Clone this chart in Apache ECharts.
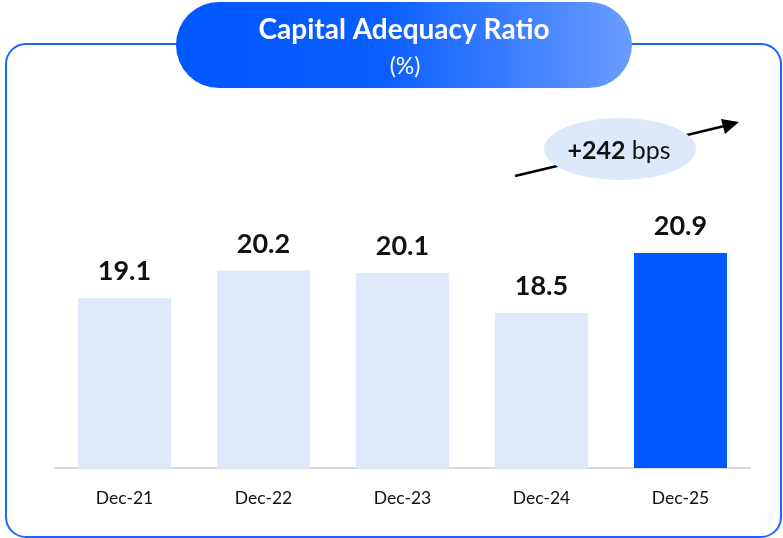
<!DOCTYPE html>
<html><head><meta charset="utf-8">
<script src="https://cdn.jsdelivr.net/npm/echarts@6/dist/echarts.min.js"></script>
<style>html,body{margin:0;padding:0;background:#fff}#c{width:783px;height:538px}</style>
</head><body><div id="c"></div>
<script>
const categories = ['Dec-21','Dec-22','Dec-23','Dec-24','Dec-25'];
const values = [19.1, 20.2, 20.1, 18.5, 20.9];
const highlightIndex = 4;
const titleText = 'Capital Adequacy Ratio';
const subtitleText = '(%)';
const changeValue = '+242';
const changeUnit = ' bps';

const FONT = 'Lato, "Open Sans", sans-serif';
const chart = echarts.init(document.getElementById('c'), null, {renderer:'canvas'});
chart.setOption({
  backgroundColor:'#fff',
  animation:false,
  grid:{left:55, right:33, top:93, bottom:70},
  xAxis:{type:'category', data:categories,
    axisLine:{lineStyle:{color:'#d9d9d9', width:2}},
    axisTick:{show:false},
    axisLabel:{color:'#111', fontSize:17.5, fontFamily:FONT, margin:21}},
  yAxis:{type:'value', min:12.3, max:27.3, show:false, splitLine:{show:false}},
  series:[{type:'bar', barWidth:93,
    data: values.map((v,i)=>({value:v, itemStyle:{color: i===highlightIndex ? '#0058ff' : '#dfe9fb'}})),
    label:{show:true, position:'top', distance:13, color:'#111', fontSize:27, fontWeight:'bold', fontFamily:FONT}
  }],
  graphic:[
    {type:'rect', z:1, shape:{x:6, y:44, width:775, height:493, r:20},
     style:{fill:'none', stroke:'#1a66ff', lineWidth:2}},
    {type:'rect', z:5, shape:{x:176, y:2, width:456, height:86, r:43},
     style:{fill:new echarts.graphic.LinearGradient(0,0,1,0,[
       {offset:0,color:'#0057ff'},{offset:0.45,color:'#0a5eff'},{offset:1,color:'#6a9dff'}])}},
    {type:'text', z:6, x:404, y:30,
     style:{text:titleText, fill:'#fff', font:'bold 28px '+FONT, align:'center', verticalAlign:'middle'}},
    {type:'text', z:6, x:405, y:67,
     style:{text:subtitleText, fill:'#fff', font:'23px '+FONT, align:'center', verticalAlign:'middle'}},
    {type:'line', z:7, shape:{x1:515, y1:176, x2:733, y2:124},
     style:{stroke:'#000', lineWidth:2.5}},
    {type:'polygon', z:7, shape:{points:[[739,122],[721,119],[725,134]]},
     style:{fill:'#000'}},
    {type:'ellipse', z:8, shape:{cx:620, cy:149, rx:76, ry:31},
     style:{fill:'#dde8fb'}},
    {type:'text', z:9, x:619, y:151,
     style:{rich:{b:{font:'bold 25px '+FONT, fill:'#111'}, n:{font:'25px '+FONT, fill:'#111'}},
       text:'{b|'+changeValue+'}{n|'+changeUnit+'}', align:'center', verticalAlign:'middle'}}
  ]
});
</script></body></html>
